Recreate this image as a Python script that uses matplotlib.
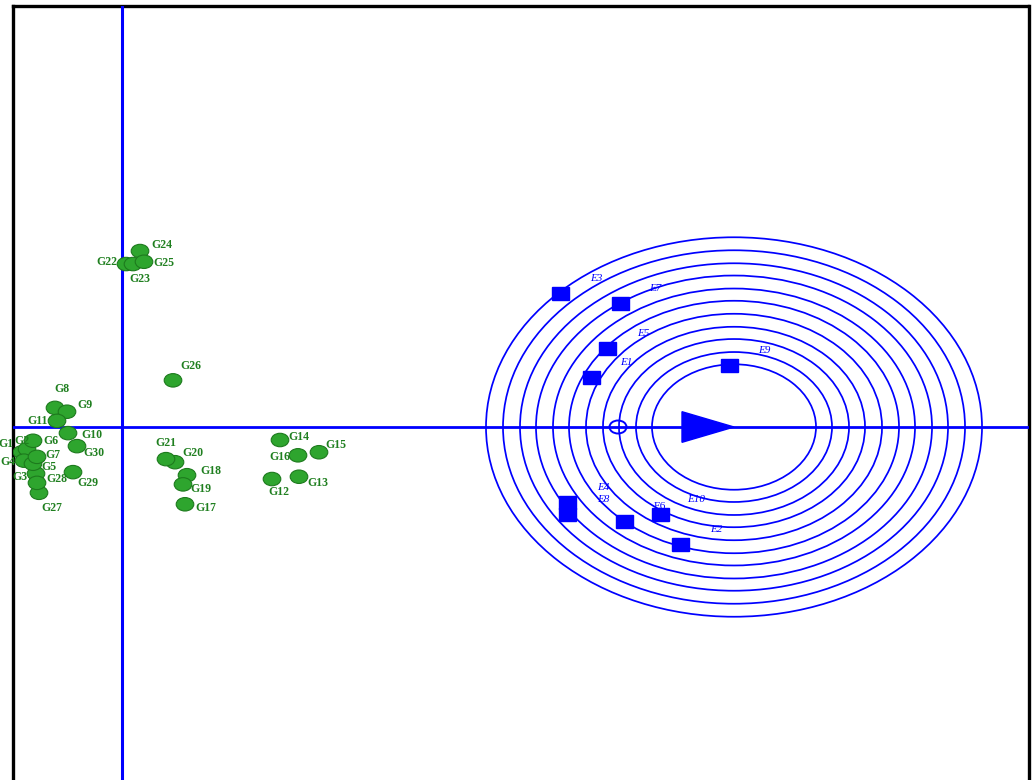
import matplotlib
matplotlib.use("Agg")
import matplotlib.pyplot as plt
from matplotlib.patches import Circle, Rectangle, Polygon

# genotype scores (PC1, PC2)
gen_names = ['G1', 'G2', 'G3', 'G4', 'G5', 'G6', 'G7', 'G8', 'G9', 'G10',
             'G11', 'G12', 'G13', 'G14', 'G15', 'G16', 'G17', 'G18', 'G19', 'G20',
             'G21', 'G22', 'G23', 'G24', 'G25', 'G26', 'G27', 'G28', 'G29', 'G30']
gen_x = [-1.00, -0.95, -0.86, -0.98, -0.89, -0.89, -0.85, -0.67, -0.55, -0.54,
         -0.65, 1.50, 1.77, 1.58, 1.97, 1.76, 0.63, 0.65, 0.61, 0.53,
         0.44, 0.04, 0.11, 0.18, 0.22, 0.51, -0.83, -0.85, -0.49, -0.45]
gen_y = [-0.33, -0.29, -0.61, -0.44, -0.48, -0.18, -0.39, 0.25, 0.20, -0.08,
         0.08, -0.68, -0.65, -0.17, -0.33, -0.37, -1.01, -0.63, -0.75, -0.46,
         -0.42, 2.13, 2.13, 2.30, 2.16, 0.61, -0.86, -0.73, -0.59, -0.25]
# where each genotype label sits relative to its point (pixels, right / down)
gen_lab_dx = [-16, -5, -16, -16, 16, 18, 16, 7, 18, 24,
              -19, 7, 19, 19, 17, -18, 21, 24, 18, 18,
              0, -19, 7, 22, 20, 18, 13, 20, 15, 17]
gen_lab_dy = [-8, -8, 3, 1, 3, 0, -2, -19, -7, 2,
              0, 13, 6, -3, -7, 2, 4, -4, 5, -9,
              -16, -2, 15, -6, 1, -14, 15, -4, 11, 7]

# environment scores
env_names = ['E1', 'E2', 'E3', 'E4', 'E5', 'E6', 'E7', 'E8', 'E9', 'E10']
env_x = [4.69, 5.59, 4.39, 4.46, 4.86, 5.03, 4.98, 4.46, 6.07, 5.39]
env_y = [0.65, -1.54, 1.75, -0.99, 1.03, -1.23, 1.61, -1.15, 0.81, -1.15]

# ideal environment and average environment
ideal_x, ideal_y = 6.12, 0.0
aea_x, aea_y = 4.96, 0.0
ring_radii = [0.82, 0.98, 1.15, 1.31, 1.48, 1.65, 1.81, 1.98, 2.14, 2.31, 2.48]

blue = '#0000ff'
gcol = '#1f7f1f'

fig = plt.figure(figsize=(10.32, 7.8), dpi=100)
ax = fig.add_axes([12.5 / 1032, 0, 1016 / 1032, 774 / 780])
ax.set_xlim(-1.095, 9.065)
ax.set_ylim(-4.614, 5.503)
ax.set_xticks([])
ax.set_yticks([])
for s in ['left', 'top', 'right']:
    ax.spines[s].set_linewidth(2.4)
    ax.spines[s].set_color('black')
ax.spines['bottom'].set_visible(False)

# axes of the biplot
ax.axhline(0, color=blue, lw=2.0, zorder=3)
ax.axvline(0, color=blue, lw=2.2, zorder=3)

# concentric rings around the ideal environment
for r in ring_radii:
    ax.add_patch(Circle((ideal_x, ideal_y), r, fill=False, ec=blue, lw=1.25, zorder=2))

ax.add_patch(Circle((aea_x, aea_y), 0.085, fill=False, ec=blue, lw=1.4, zorder=4))
ax.add_patch(Polygon([(ideal_x, ideal_y), (ideal_x - 0.52, ideal_y + 0.2),
                      (ideal_x - 0.52, ideal_y - 0.2)], closed=True,
                     fc=blue, ec=blue, zorder=4))

# environments
sq = 0.17
for name, x, y in zip(env_names, env_x, env_y):
    ax.add_patch(Rectangle((x - sq / 2, y - sq / 2), sq, sq, fc=blue, ec=blue, zorder=5))
    ax.annotate(name, (x, y), xytext=(35 * 0.72, 15 * 0.72), textcoords='offset points',
                ha='center', va='center', color=blue, fontsize=8,
                family='Liberation Serif', style='normal' if name == 'E6' else 'italic',
                zorder=6)

# genotypes
for name, x, y, dx, dy in zip(gen_names, gen_x, gen_y, gen_lab_dx, gen_lab_dy):
    ax.add_patch(Circle((x, y), 0.088, fc='#2ea52e', ec='#1d7a1d', lw=0.8, zorder=5))
    ax.annotate(name, (x, y), xytext=(dx * 0.72, -dy * 0.72), textcoords='offset points',
                ha='center', va='center', color=gcol, fontsize=8.5, fontweight='bold',
                family='Liberation Serif', annotation_clip=False, zorder=6)

fig.savefig('out.png', dpi=100)
